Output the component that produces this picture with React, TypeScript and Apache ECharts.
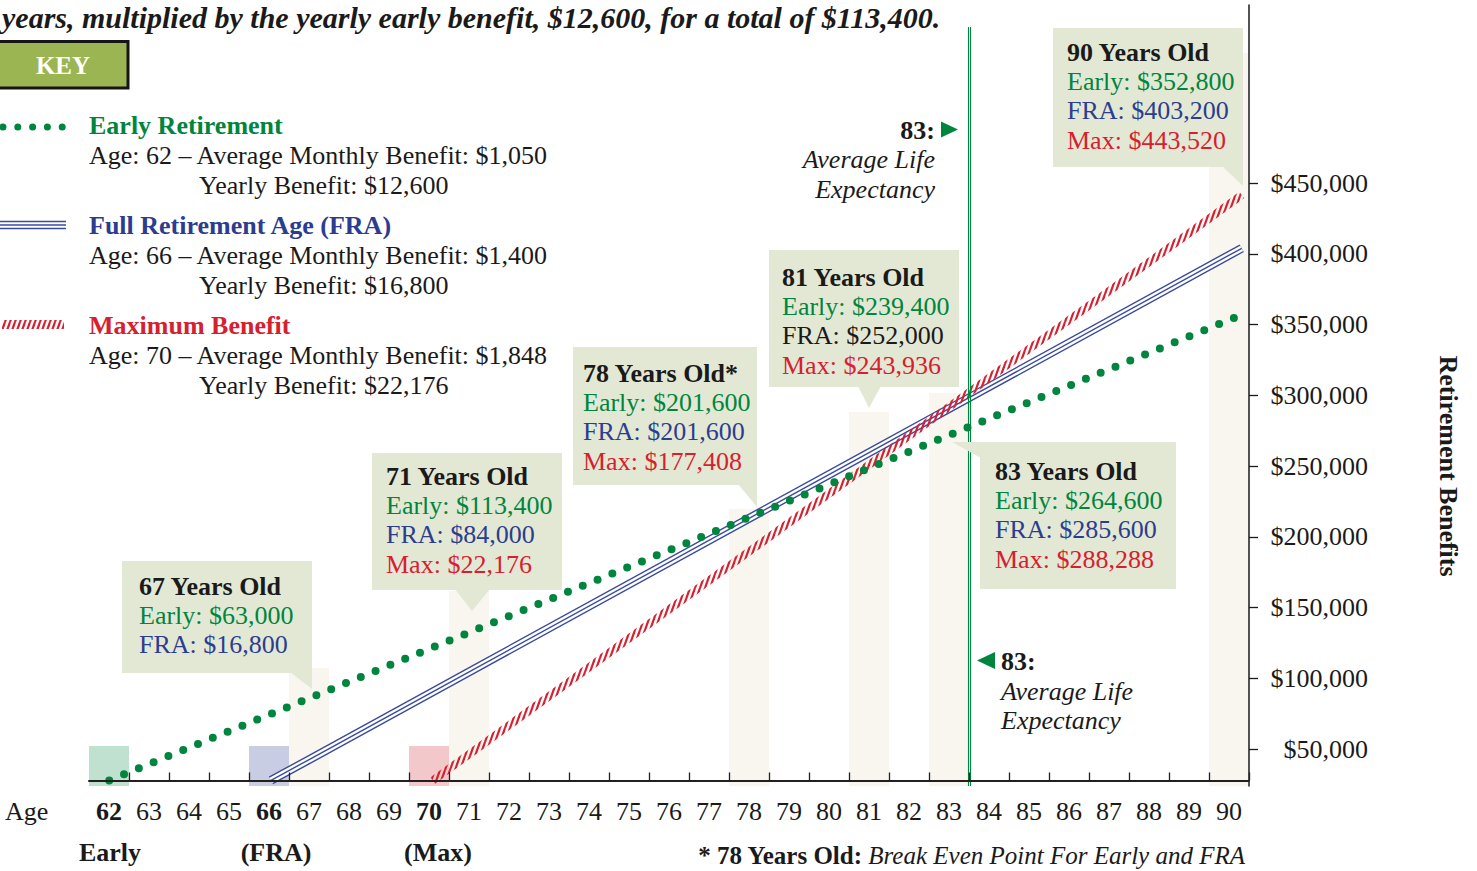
import React, { useEffect, useRef } from 'react';
import * as echarts from 'echarts';

// ---------- data ----------
const ageCategories = ['62', '63', '64', '65', '66', '67', '68', '69', '70', '71', '72', '73', '74', '75', '76', '77', '78', '79', '80', '81', '82', '83', '84', '85', '86', '87', '88', '89', '90'];
const highlightedAges = ['62', '66', '70'];
const highlightedAgeNotes = ['Early', '(FRA)', '(Max)'];

const earlyAges = [62, 67, 71, 78, 81, 83, 90];
const earlyTotals = [0, 63000, 113400, 201600, 239400, 264600, 352800];
const fraAges = [66, 67, 71, 78, 81, 83, 90];
const fraTotals = [0, 16800, 84000, 201600, 252000, 285600, 403200];
const maxAges = [70, 71, 78, 81, 83, 90];
const maxTotals = [0, 22176, 177408, 243936, 288288, 443520];

const benefitTicks = [50000, 100000, 150000, 200000, 250000, 300000, 350000, 400000, 450000];

const calloutAges = [67, 71, 78, 81, 83, 90];
const breakEvenAge = 78;
const lifeExpectancyAge = 83;

const keyTitles = ['Early Retirement', 'Full Retirement Age (FRA)', 'Maximum Benefit'];
const keyStartAges = [62, 66, 70];
const keyMonthly = ['$1,050', '$1,400', '$1,848'];
const keyYearly = ['$12,600', '$16,800', '$22,176'];

const titleText = 'years, multiplied by the yearly early benefit, $12,600, for a total of $113,400.';
const axisTitle = 'Retirement Benefits';

// ---------- styles ----------
const FONT = '"Liberation Serif", "Times New Roman", Times, serif';
const INK = '#1a1a1a';
const GREEN = '#00853e';
const BLUE = '#2c3d8f';
const LINE_BLUE = '#3a4a9c';
const RED = '#d7202f';
const CALLOUT = '#e3e8d4';
const BEIGE = '#f8f6ef';
const START_BOX = ['#c0e1cf', '#c8cde3', '#f2c8cb'];

const Y_MIN = -4200;
const Y_MAX = 587500;

const hatchSvg =
  '<svg xmlns="http://www.w3.org/2000/svg" width="5" height="14">' +
  '<g stroke="' + RED + '" stroke-width="2.2">' +
  '<line x1="-5" y1="14" x2="0" y2="0"/><line x1="0" y1="14" x2="5" y2="0"/><line x1="5" y1="14" x2="10" y2="0"/>' +
  '</g></svg>';
const hatchPattern: any = {
  image: 'data:image/svg+xml;charset=utf-8,' + encodeURIComponent(hatchSvg),
  repeat: 'repeat',
  imageWidth: 5,
  imageHeight: 14,
};

const money = (v: number) => '$' + v.toLocaleString('en-US');
const pairs = (xs: number[], ys: number[]) => xs.map((x, i) => [x, ys[i]]);

// column tops (hidden-axis units) for the callout guides
const columnTops: Record<number, number> = { 67: 85200, 71: 143500, 78: 205600, 81: 279100, 83: 293500, 90: 551100 };
const startBoxTop = 26100;
const lifeLineTop = 570800;

const calloutLayout: Record<number, any> = {
  67: { x: 122, y: 561, w: 190, h: 112, tx: 139, ty: 586, ptr: [[290, 672], [312, 672], [312, 689]] },
  71: { x: 372, y: 453, w: 190, h: 137, tx: 386, ty: 476, ptr: [[455, 589], [490, 589], [472, 611]] },
  78: { x: 573, y: 347, w: 184, h: 138, tx: 583, ty: 373, ptr: [[738, 484], [757, 484], [757, 507]] },
  81: { x: 769, y: 250, w: 190, h: 137, tx: 782, ty: 277, ptr: [[858, 386], [881, 386], [869, 408]] },
  83: { x: 980, y: 442, w: 196, h: 147, tx: 995, ty: 471, ptr: [[952, 442], [981, 442], [981, 458]] },
  90: { x: 1053, y: 28, w: 190, h: 139, tx: 1067, ty: 52, ptr: [[1222, 166], [1243, 166], [1243, 186]] },
};
const calloutColorOverride: Record<string, string> = { '81-FRA': INK };

function label(x: number, y: number, text: string, o: any = {}) {
  return {
    type: 'text',
    x,
    y,
    z: 20,
    rotation: o.rotation || 0,
    silent: true,
    style: {
      text,
      fill: o.fill || INK,
      fontFamily: FONT,
      fontSize: o.fontSize || 26,
      fontWeight: o.fontWeight || 'normal',
      fontStyle: o.fontStyle || 'normal',
      align: o.align || 'left',
      verticalAlign: 'middle',
      rich: o.rich,
    },
  };
}

function buildGraphics() {
  const g: any[] = [];
  g.push(label(2, 17, titleText, { fontSize: 30, fontWeight: 'bold', fontStyle: 'italic' }));

  // KEY
  g.push({ type: 'rect', z: 20, silent: true, shape: { x: -2, y: 41.5, width: 130, height: 46.5 }, style: { fill: '#9cb553', stroke: '#151515', lineWidth: 3 } });
  g.push(label(63, 65, 'KEY', { fill: '#ffffff', fontWeight: 'bold', fontSize: 25, align: 'center' }));

  // key swatches
  g.push({ type: 'line', z: 20, silent: true, shape: { x1: 3, y1: 127, x2: 66, y2: 127 }, style: { stroke: GREEN, lineWidth: 7, lineDash: [0, 14.8], lineCap: 'round' } });
  [221.5, 225, 228.5].forEach((y) =>
    g.push({ type: 'line', z: 20, silent: true, shape: { x1: 0, y1: y, x2: 66, y2: y }, style: { stroke: LINE_BLUE, lineWidth: 1.3 } })
  );
  g.push({ type: 'rect', z: 20, silent: true, shape: { x: 2, y: 320, width: 62, height: 9 }, style: { fill: hatchPattern } });

  const keyColors = [GREEN, BLUE, RED];
  keyTitles.forEach((t, i) => {
    const y0 = 125 + i * 100;
    g.push(label(89, y0, t, { fill: keyColors[i], fontWeight: 'bold' }));
    g.push(label(89, y0 + 30, `Age: ${keyStartAges[i]} \u2013 Average Monthly Benefit: ${keyMonthly[i]}`));
    g.push(label(199, y0 + 60, `Yearly Benefit: ${keyYearly[i]}`));
  });

  // callouts
  const seriesInfo = [
    { name: 'Early', ages: earlyAges, totals: earlyTotals, color: GREEN },
    { name: 'FRA', ages: fraAges, totals: fraTotals, color: BLUE },
    { name: 'Max', ages: maxAges, totals: maxTotals, color: RED },
  ];
  calloutAges.forEach((age) => {
    const L = calloutLayout[age];
    g.push({ type: 'rect', z: 15, silent: true, shape: { x: L.x, y: L.y, width: L.w, height: L.h }, style: { fill: CALLOUT } });
    g.push({ type: 'polygon', z: 15, silent: true, shape: { points: L.ptr }, style: { fill: CALLOUT } });
    g.push(label(L.tx, L.ty, `${age} Years Old${age === breakEvenAge ? '*' : ''}`, { fontWeight: 'bold' }));
    let row = 1;
    seriesInfo.forEach((s) => {
      const idx = s.ages.indexOf(age);
      if (idx >= 0 && s.totals[idx] > 0) {
        const color = calloutColorOverride[`${age}-${s.name}`] || s.color;
        g.push(label(L.tx, L.ty + row * 29.4, `${s.name}: ${money(s.totals[idx])}`, { fill: color }));
        row += 1;
      }
    });
  });

  // life expectancy annotations
  g.push(label(935, 130, `${lifeExpectancyAge}:`, { fontWeight: 'bold', align: 'right' }));
  g.push({ type: 'polygon', z: 20, silent: true, shape: { points: [[941, 121.5], [958, 129.5], [941, 137.5]] }, style: { fill: GREEN } });
  g.push(label(935, 159, 'Average Life', { fontStyle: 'italic', align: 'right' }));
  g.push(label(935, 189, 'Expectancy', { fontStyle: 'italic', align: 'right' }));

  g.push({ type: 'polygon', z: 20, silent: true, shape: { points: [[995, 652], [977, 660.5], [995, 669]] }, style: { fill: GREEN } });
  g.push(label(1001, 661, `${lifeExpectancyAge}:`, { fontWeight: 'bold' }));
  g.push(label(1001, 691, 'Average Life', { fontStyle: 'italic' }));
  g.push(label(1001, 720, 'Expectancy', { fontStyle: 'italic' }));

  // axis captions & footnote
  g.push(label(5, 811, 'Age'));
  g.push(label(1448, 466, axisTitle, { fontWeight: 'bold', align: 'center', rotation: -Math.PI / 2 }));
  g.push({
    type: 'text',
    x: 1245,
    y: 855,
    z: 20,
    silent: true,
    style: {
      text: `{b|* ${breakEvenAge} Years Old:}{i| Break Even Point For Early and FRA}`,
      align: 'right',
      verticalAlign: 'middle',
      fill: INK,
      fontFamily: FONT,
      fontSize: 25,
      rich: {
        b: { fontFamily: FONT, fontSize: 25, fontWeight: 'bold', fill: INK },
        i: { fontFamily: FONT, fontSize: 25, fontStyle: 'italic', fill: INK },
      },
    },
  });
  return g;
}

function buildOption() {
  const markAreas: any[] = [];
  calloutAges.forEach((a) => {
    markAreas.push([{ coord: [a - 0.5, Y_MIN], itemStyle: { color: BEIGE } }, { coord: [a + 0.5, columnTops[a]] }]);
  });
  keyStartAges.forEach((a, i) => {
    markAreas.push([{ coord: [a - 0.5, Y_MIN], itemStyle: { color: START_BOX[i] } }, { coord: [a + 0.5, startBoxTop] }]);
  });
  const lx = lifeExpectancyAge + 0.5;
  const lifeLines = [lx - 0.03, lx + 0.03].map((x) => [{ coord: [x, Y_MIN] }, { coord: [x, lifeLineTop] }]);

  const fraData = pairs(fraAges, fraTotals);
  const common = { type: 'line', xAxisIndex: 1, yAxisIndex: 1, symbol: 'none', silent: true, clip: false, emphasis: { disabled: true } };

  const richAxis: any = {
    n: { fontFamily: FONT, fontSize: 26, color: INK, lineHeight: 26 },
    b: { fontFamily: FONT, fontSize: 26, color: INK, fontWeight: 'bold', lineHeight: 26 },
    s0: { fontFamily: FONT, fontSize: 26, color: INK, fontWeight: 'bold', lineHeight: 56, padding: [0, 0, 0, 2] },
    s1: { fontFamily: FONT, fontSize: 26, color: INK, fontWeight: 'bold', lineHeight: 56, padding: [0, 0, 0, 14] },
    s2: { fontFamily: FONT, fontSize: 26, color: INK, fontWeight: 'bold', lineHeight: 56, padding: [0, 0, 0, 18] },
  };

  return {
    animation: false,
    backgroundColor: '#ffffff',
    grid: { left: 89, right: 228, top: 5, bottom: 85, containLabel: false },
    xAxis: [
      {
        type: 'category',
        data: ageCategories,
        boundaryGap: true,
        z: 10,
        axisLine: { show: true, lineStyle: { color: '#231f20', width: 2 } },
        axisTick: { show: true, inside: true, length: 8, lineStyle: { color: '#231f20', width: 1.3 }, interval: (i: number) => i !== 0 },
        axisLabel: {
          margin: 12,
          interval: 0,
          fontFamily: FONT,
          fontSize: 26,
          color: INK,
          formatter: (v: string) => {
            const k = highlightedAges.indexOf(v);
            return k >= 0 ? `{b|${v}}\n{s${k}|${highlightedAgeNotes[k]}}` : `{n|${v}}`;
          },
          rich: richAxis,
        },
        splitLine: { show: false },
      },
      { type: 'value', min: 61.5, max: 90.18, show: false },
      { type: 'value', min: 61.5, max: 90.5, show: false },
    ],
    yAxis: [
      {
        type: 'value',
        position: 'right',
        min: 23852,
        max: 575795,
        z: 10,
        axisLine: { show: true, lineStyle: { color: '#1a1a1a', width: 1.5 } },
        axisTick: { show: true, length: 9, lineStyle: { color: '#1a1a1a', width: 1.3 }, customValues: benefitTicks },
        axisLabel: {
          customValues: benefitTicks,
          formatter: (v: number) => money(v),
          align: 'right',
          margin: 119,
          fontFamily: FONT,
          fontSize: 26,
          color: INK,
        },
        splitLine: { show: false },
      },
      { type: 'value', min: Y_MIN, max: Y_MAX, show: false },
    ],
    series: [
      {
        type: 'line',
        name: 'guides',
        xAxisIndex: 2,
        yAxisIndex: 1,
        data: [],
        silent: true,
        z: 1,
        markArea: { silent: true, data: markAreas, label: { show: false } },
        markLine: { silent: true, symbol: ['none', 'none'], label: { show: false }, lineStyle: { color: GREEN, width: 1.1, type: 'solid' }, data: lifeLines },
      },
      { ...common, name: 'Full Retirement Age (FRA)', data: fraData, z: 3, lineStyle: { color: LINE_BLUE, width: 8.8 } },
      { ...common, name: 'FRA gap', data: fraData, z: 3, lineStyle: { color: '#ffffff', width: 6 } },
      { ...common, name: 'FRA core', data: fraData, z: 3, lineStyle: { color: LINE_BLUE, width: 1.4 } },
      { ...common, name: 'Maximum Benefit', data: pairs(maxAges, maxTotals), z: 4, lineStyle: { color: hatchPattern, width: 8 } },
      { ...common, name: 'Early Retirement', data: pairs(earlyAges, earlyTotals), z: 5, lineStyle: { color: GREEN, width: 8, type: [0, 16], cap: 'round' } },
    ],
    graphic: buildGraphics(),
  };
}

export default function App() {
  const ref = useRef<HTMLDivElement>(null);
  useEffect(() => {
    if (!ref.current) return;
    const chart = echarts.init(ref.current, undefined, { renderer: 'svg' });
    chart.setOption(buildOption() as any);
    return () => chart.dispose();
  }, []);
  return <div ref={ref} style={{ position: 'fixed', left: 0, top: 0, width: 1477, height: 871, background: '#fff' }} />;
}
